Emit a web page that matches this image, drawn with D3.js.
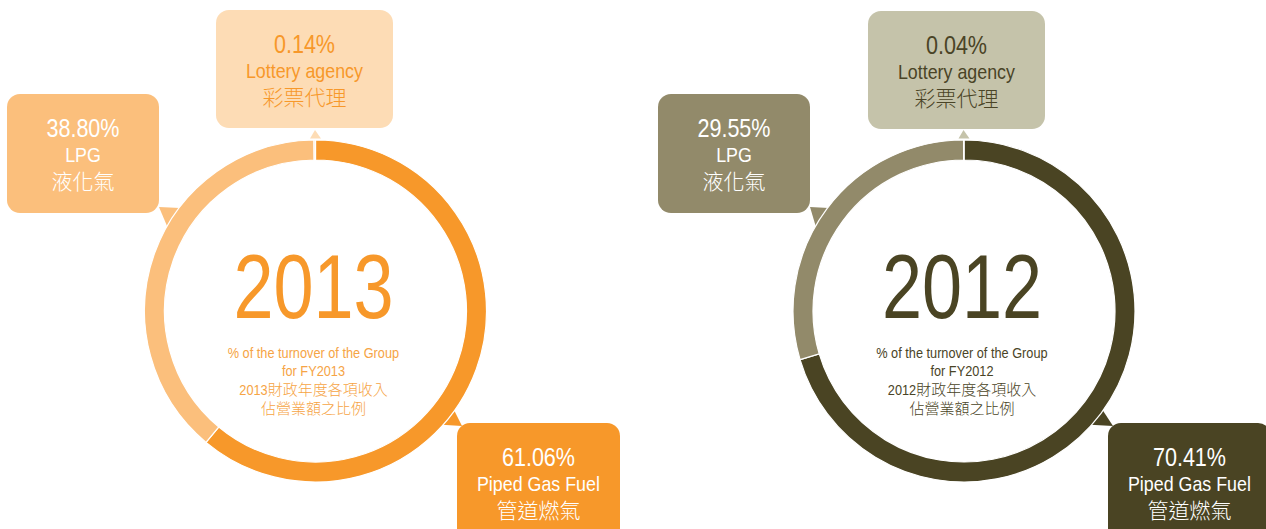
<!DOCTYPE html>
<html><head><meta charset="utf-8">
<script src="https://cdn.jsdelivr.net/npm/d3@7"></script>
<style>
html,body{margin:0;padding:0;background:#fff;}
svg{display:block;}
</style></head>
<body>
<svg id="chart" width="1266" height="529"></svg>
<script>
// ---------- data ----------
const categories   = ["Piped Gas Fuel", "LPG", "Lottery agency"];
const categoriesZh = ["管道燃氣", "液化氣", "彩票代理"];
const years        = ["2013", "2012"];
const values2013   = [61.06, 38.80, 0.14];
const values2012   = [70.41, 29.55, 0.04];
const subtitleEn1  = "% of the turnover of the Group";
const subtitleEn2  = "for FY";
const subtitleZh1  = "財政年度各項收入";
const subtitleZh2  = "佔營業額之比例";

// ---------- layout / style ----------
const LATIN = "'Liberation Sans',Arial,sans-serif";
const CJK = "'Noto Sans CJK TC','Noto Sans CJK SC',sans-serif";
const charts = [
  { year: years[0], values: values2013, cx: 315.5, cy: 311,
    colors: ["#F7982A", "#FBBF7C", "#FDDCB5"],
    boxText: ["#FFFFFF", "#FFFFFF", "#F7982A"],
    yearColor: "#F7982A", subColor: "#F6A445",
    boxes: [ {x:457, y:423, w:163, h:120}, {x:7, y:94, w:152, h:119}, {x:216, y:10, w:177, h:118} ] },
  { year: years[1], values: values2012, cx: 964, cy: 311,
    colors: ["#4A4423", "#928A6A", "#C5C3AA"],
    boxText: ["#FFFFFF", "#FFFFFF", "#4A4426"],
    yearColor: "#4A4423", subColor: "#4A4426",
    boxes: [ {x:1108, y:423, w:163, h:120}, {x:658, y:94, w:152, h:119}, {x:868, y:11, w:177, h:118} ] }
];
const R_OUT = 171, R_IN = 151;

const svg = d3.select("#chart");
const pie = d3.pie().sort(null).startAngle(0).endAngle(2*Math.PI);
const arc = d3.arc().innerRadius(R_IN).outerRadius(R_OUT);
const fmt = d3.format(".2f");
const rad = d => d * Math.PI / 180;
const polar = (cx, cy, r, a) => [cx + r*Math.sin(a), cy - r*Math.cos(a)];

// centred text made of parts; latin parts are horizontally condensed, CJK parts are not
function label(g, cx, y, str, size, color, cond) {
  const parts = [];
  const re = /([\u3000-\u9fff\uff00-\uffef]+)|([^\u3000-\u9fff\uff00-\uffef]+)/g;
  let m;
  while ((m = re.exec(str)) !== null) {
    parts.push(m[1] ? {t: m[1], cjk: true} : {t: m[2], cjk: false});
  }
  const nodes = parts.map(p => {
    const t = g.append("text").attr("font-family", p.cjk ? CJK : LATIN)
      .attr("font-weight", p.cjk ? 300 : 400)
      .attr("font-size", size).attr("fill", color).text(p.t);
    const s = p.cjk ? 1 : cond;
    return {t, s, w: t.node().getComputedTextLength() * s};
  });
  const W = d3.sum(nodes, n => n.w);
  let x = cx - W/2;
  nodes.forEach(n => {
    n.t.attr("transform", `translate(${x},${y}) scale(${n.s},1)`);
    x += n.w;
  });
}

charts.forEach(c => {
  const g = svg.append("g");
  const arcs = pie(c.values);

  const pb = c.boxes[0], lb = c.boxes[1];
  const ptrs = [
    { color: c.colors[0], pts: [polar(c.cx,c.cy,R_OUT-1,rad(125.5)), polar(c.cx,c.cy,R_OUT-1,rad(132)), [pb.x+5, pb.y+3]] },
    { color: c.colors[1], pts: [polar(c.cx,c.cy,R_OUT-1,rad(299.5)), polar(c.cx,c.cy,R_OUT-1,rad(307.3)), [lb.x+lb.w, lb.y+lb.h-6]] },
  ];
  ptrs.forEach(p => {
    g.append("path").attr("d", d3.line()(p.pts) + "Z").attr("fill", p.color);
  });
  const topY = c.cy - R_OUT;
  g.append("path")
    .attr("d", d3.line()([[c.cx-5.5, topY-1.5],[c.cx+5.5, topY-1.5],[c.cx-0.5, topY-10]]) + "Z")
    .attr("fill", c.colors[2]);

  g.selectAll("path.slice").data(arcs).join("path")
    .attr("class","slice")
    .attr("transform", `translate(${c.cx},${c.cy})`)
    .attr("d", arc)
    .attr("fill", (d,i) => c.colors[i])
    .attr("stroke", "#fff").attr("stroke-width", 1.2);

  // centre texts
  label(g, c.cx - 2, c.cy + 7, c.year, 90, c.yearColor, 0.8);
  label(g, c.cx - 2, 357.5, subtitleEn1, 15, c.subColor, 0.85);
  label(g, c.cx - 2, 376, subtitleEn2 + c.year, 15, c.subColor, 0.85);
  label(g, c.cx - 2, 395, c.year + subtitleZh1, 15, c.subColor, 0.85);
  label(g, c.cx - 2, 414, subtitleZh2, 15, c.subColor, 0.85);

  // boxes
  c.boxes.forEach((b, i) => {
    g.append("rect").attr("x", b.x).attr("y", b.y).attr("width", b.w).attr("height", b.h)
      .attr("rx", 13).attr("fill", c.colors[i]);
    const mx = b.x + b.w/2;
    label(g, mx, b.y + 43, fmt(c.values[i]) + "%", 26, c.boxText[i], 0.83);
    label(g, mx, b.y + 68, categories[i], 21, c.boxText[i], 0.85);
    label(g, mx, b.y + 95, categoriesZh[i], 21, c.boxText[i], 1);
  });
});
</script>
</body></html>
